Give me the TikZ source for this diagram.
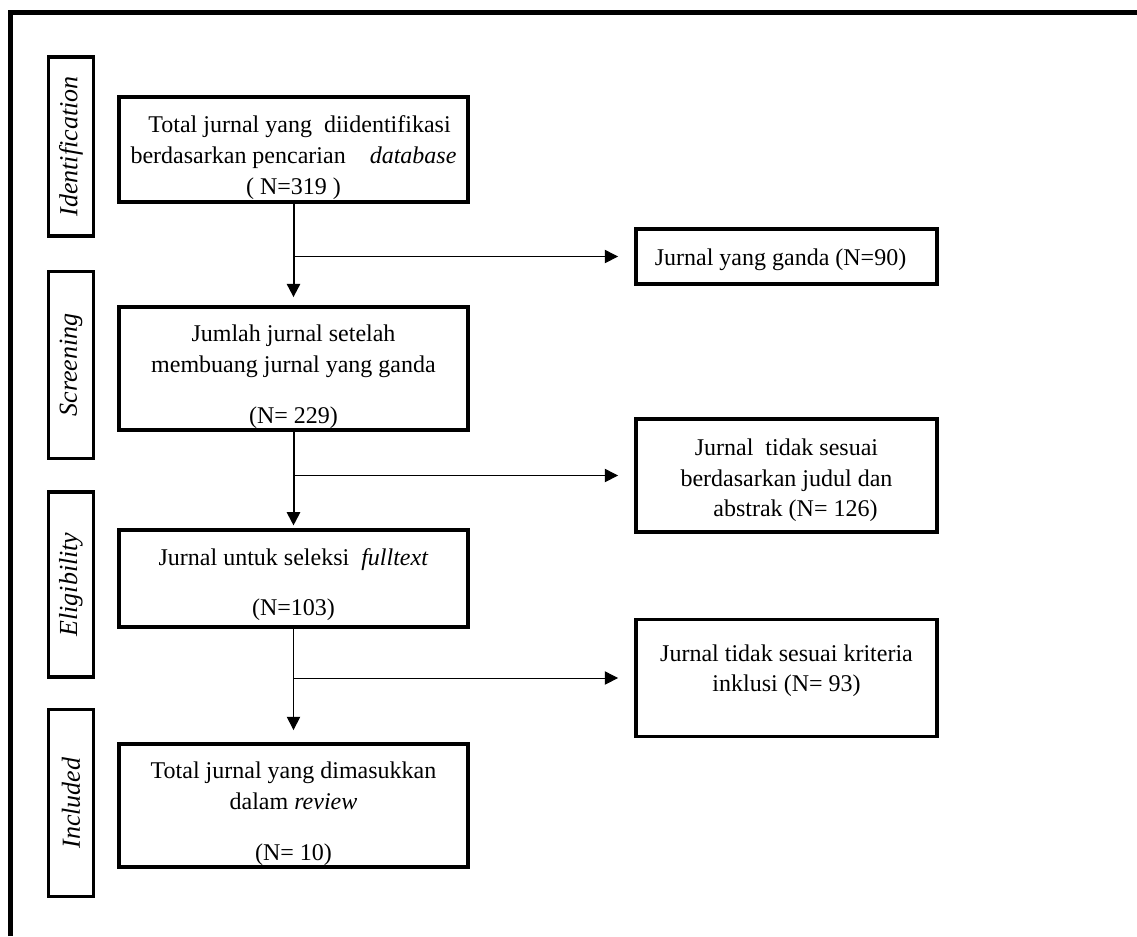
\documentclass[tikz,border=0pt]{standalone}
\usepackage{fontspec}
\setmainfont{Liberation Serif}
\usetikzlibrary{arrows.meta}
\newcommand{\toppad}[1]{\rule{0pt}{#1}}
\tikzset{
  phasebox/.style={draw, line width=2.6pt, rotate=90, inner sep=0pt, minimum height=34pt, font=\fontsize{19.5}{23}\selectfont\itshape},
  mainbox/.style={draw, line width=2.6pt, inner xsep=2pt, inner ysep=0pt, minimum width=262pt, align=center},
  sidebox/.style={draw, line width=2.6pt, inner xsep=2pt, inner ysep=0pt, minimum width=226pt, align=center},
  flowarrow/.style={-{Triangle[length=10pt,width=10pt]}},
}
\begin{document}
\begin{tikzpicture}[x=0.75pt,y=0.75pt,yscale=-1,xscale=1]
        \useasboundingbox (0,0) rectangle (1137,936);
        \fontsize{18}{23}\selectfont
        %Straight Lines [outer frame]
        \draw [line width=3.2pt] (10.5,936) -- (10.5,12.5) -- (1137,12.5) ;
        % Phase labels
        \node [phasebox, minimum width=134.5pt] (ident) at (71,146.5) {Identification};
        \node [phasebox, minimum width=140pt] (screen) at (71,365) {Screening};
        \node [phasebox, minimum width=139pt] (elig) at (71,584.5) {Eligibility};
        \node [phasebox, minimum width=140pt] (incl) at (71,803) {Included};
        % Text Node
        \node [mainbox, minimum height=79pt] (idbox) at (293.5,149.5) {\toppad{25pt}\ \ Total jurnal yang\ \ diidentifikasi\\ berdasarkan pencarian\quad\textit{database}\\ ( N=319 )};
        % Text Node
        \node [mainbox, minimum height=92.5pt] (scrbox) at (293.5,368.5) {\toppad{25pt}Jumlah jurnal setelah\\ membuang jurnal yang ganda\\[15pt] (N= 229)};
        % Text Node
        \node [mainbox, minimum height=73pt] (elbox) at (293.5,578.5) {\toppad{22pt}Jurnal untuk seleksi\ \ \textit{fulltext}\\[15pt] (N=103)};
        % Text Node
        \node [mainbox, minimum height=92.5pt] (inbox) at (293.5,805.5) {\toppad{25pt}Total jurnal yang dimasukkan\\ dalam \textit{review}\\[15pt] (N= 10)};
        % Text Node
        \node [sidebox, minimum height=41.5pt] (dup) at (786.5,256.5) {\toppad{17pt}Jurnal yang ganda (N=90)\ \ };
        % Text Node
        \node [sidebox, minimum height=85pt] (excla) at (786.5,475.5) {\toppad{20pt}Jurnal\ \ tidak sesuai\\ berdasarkan judul dan\\ \ \ \ abstrak (N= 126)};
        % Text Node
        \node [sidebox, minimum height=87.5pt] (exclb) at (786.5,678) {Jurnal tidak sesuai kriteria\\ inklusi (N= 93)\\[-8pt]\mbox{}};
        %Straight Lines [down]
        \draw [flowarrow, line width=1.5pt, shorten >=6pt] (idbox.south) -- (scrbox.north) ;
        \draw [flowarrow, line width=1.5pt, shorten >=2pt] (scrbox.south) -- (elbox.north) ;
        \draw [flowarrow, line width=0.75pt, shorten >=9pt] (elbox.south) -- (inbox.north) ;
        %Straight Lines [excluded]
        \draw [flowarrow, line width=0.75pt, shorten >=12pt] (idbox.south |- dup.west) -- (dup.west) ;
        \draw [flowarrow, line width=0.75pt, shorten >=12pt] (scrbox.south |- excla.west) -- (excla.west) ;
        \draw [flowarrow, line width=0.75pt, shorten >=12pt] (elbox.south |- exclb.west) -- (exclb.west) ;
\end{tikzpicture}
\end{document}
